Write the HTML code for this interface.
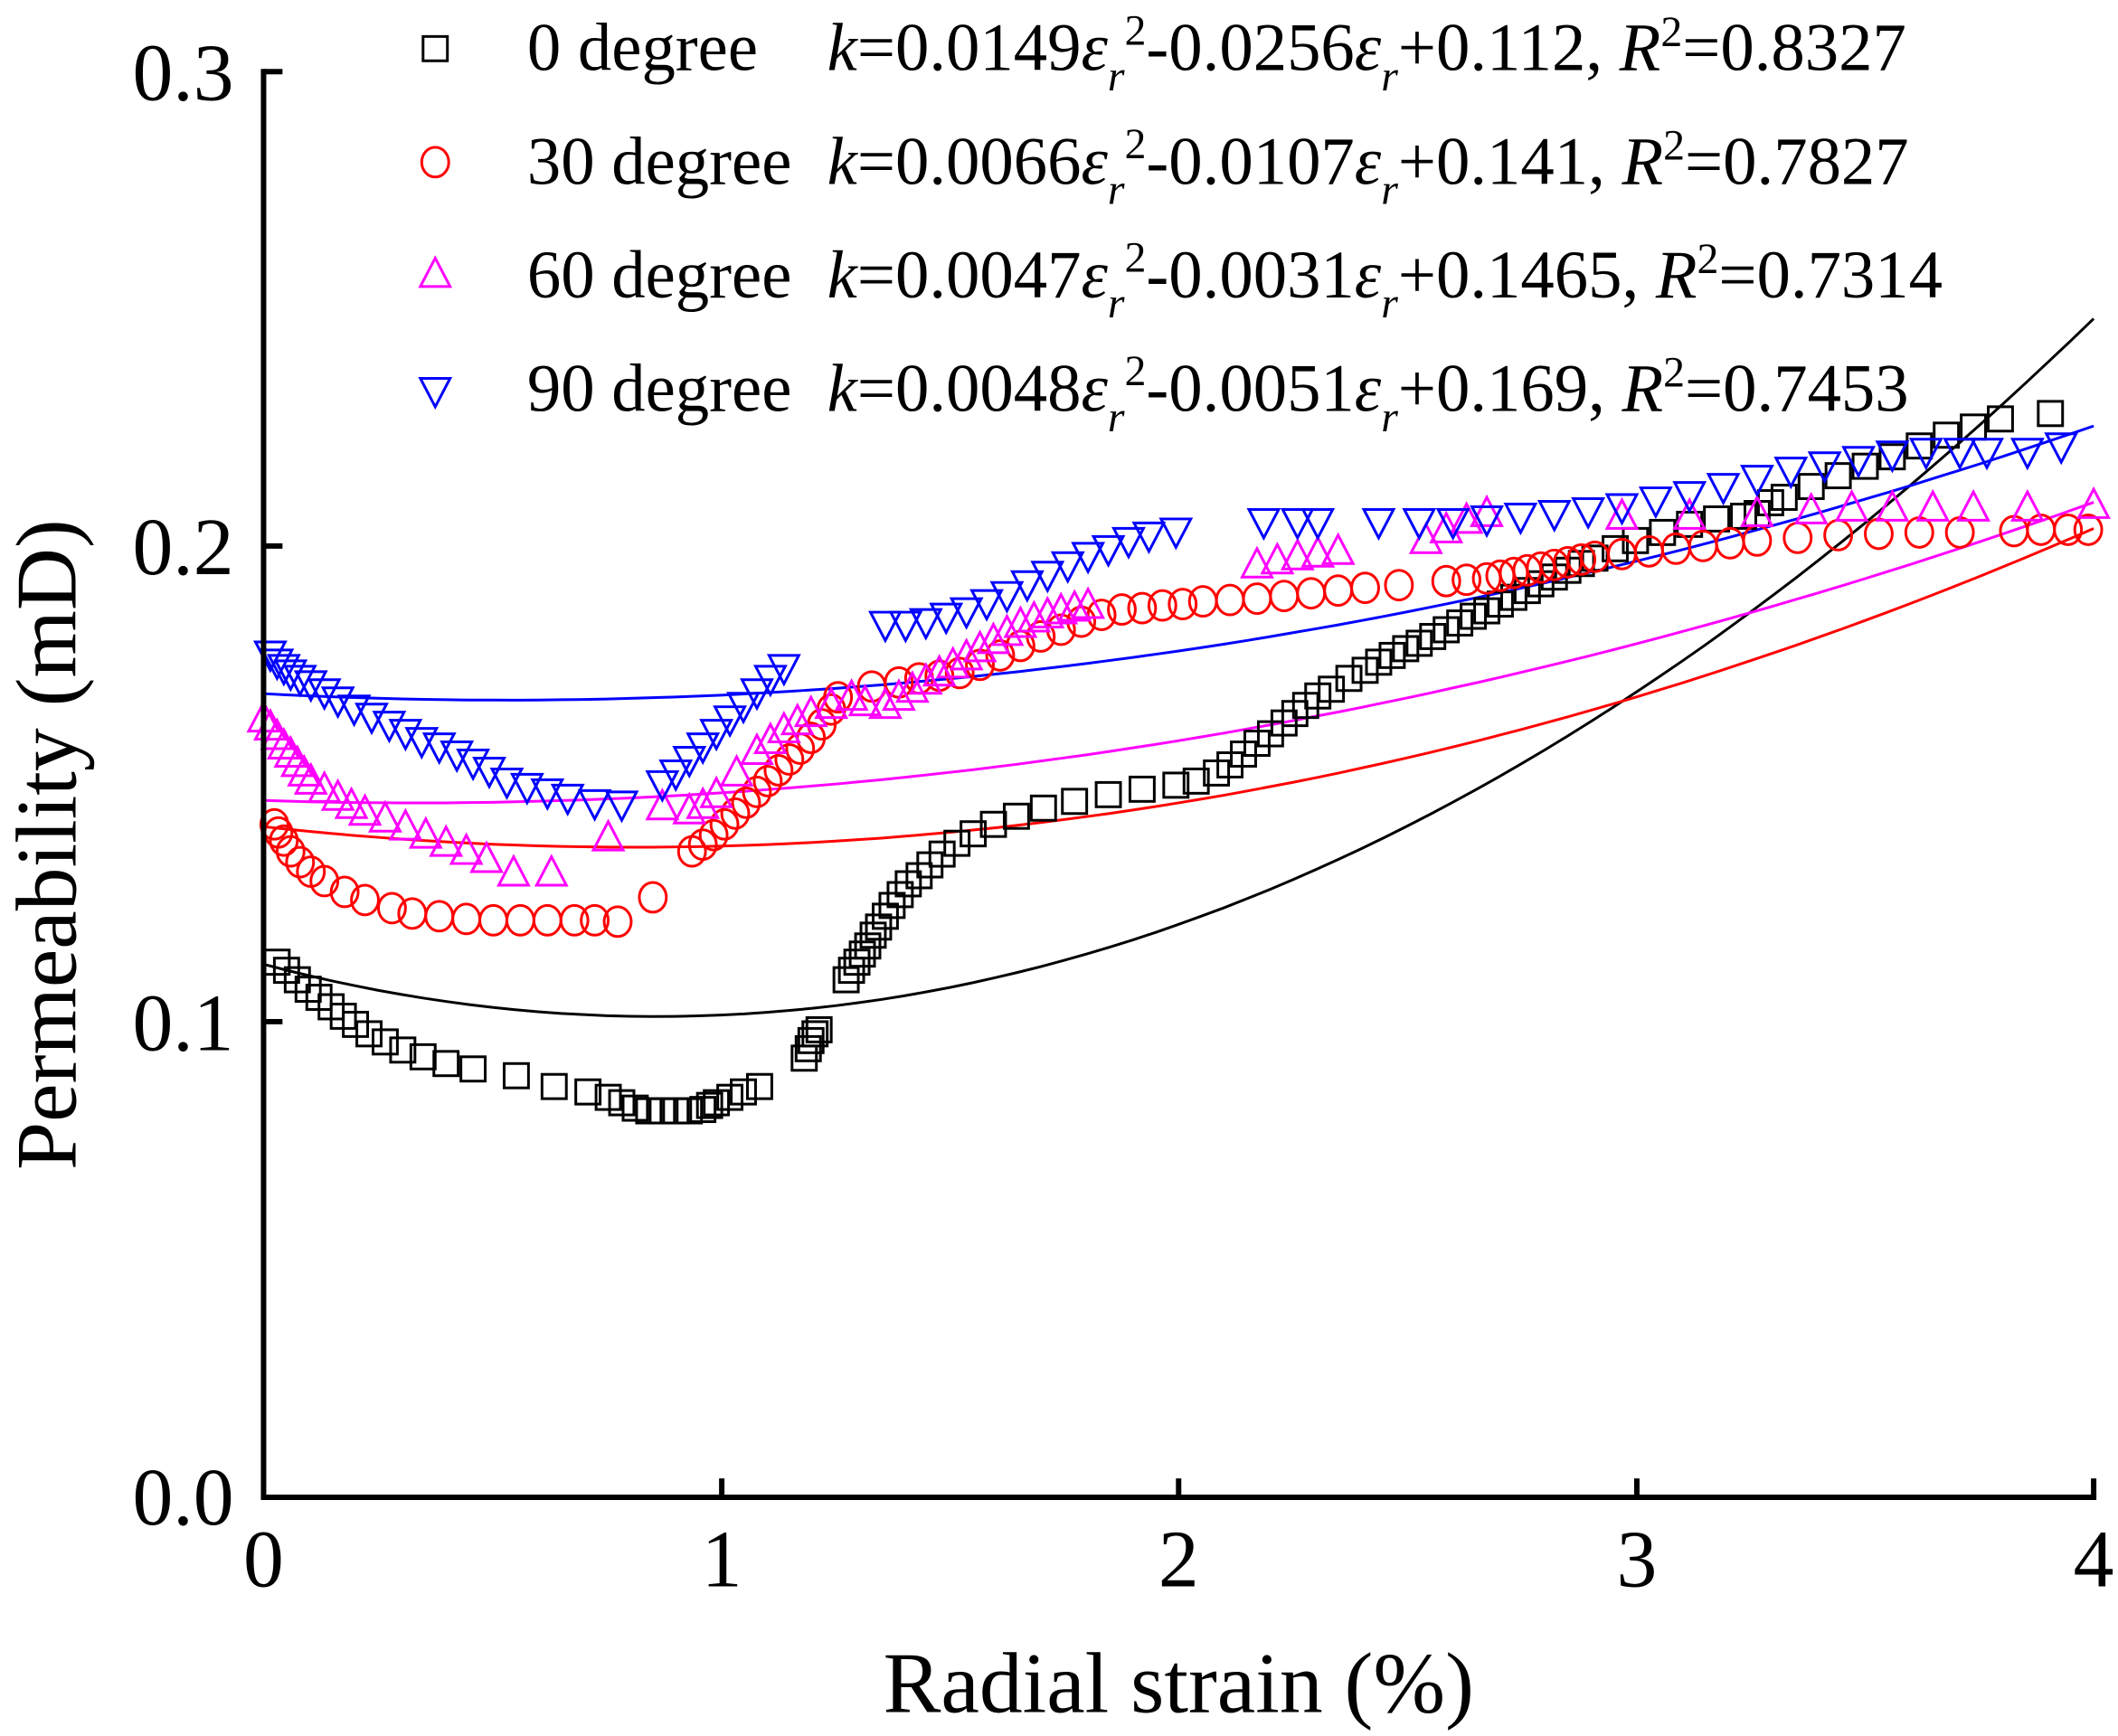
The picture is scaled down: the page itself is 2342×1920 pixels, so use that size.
<!DOCTYPE html>
<html><head><meta charset="utf-8"><style>html,body{margin:0;padding:0;background:#fff}svg{display:block}</style></head>
<body>
<svg id="s" xmlns="http://www.w3.org/2000/svg" width="2342" height="1920" viewBox="0 0 1567 1284.6" preserveAspectRatio="none" font-family="'Liberation Serif',serif">
<rect width="1567" height="1285" fill="#fff"/>
<g id="fits" fill="none" stroke-width="2"></g>
<g id="pts" fill="none" stroke-width="2"></g>
<g stroke="#000" stroke-width="4" fill="none">
<path d="M195,51 V1108 H1551"/>
<path d="M195,53 h14 M195,404 h14 M195,756 h14 M534,1108 v-14 M872,1108 v-14 M1211,1108 v-14 M1549,1108 v-14"/>
</g>
<g font-size="60" fill="#000">
<text x="173" y="74" text-anchor="end">0.3</text>
<text x="173" y="425" text-anchor="end">0.2</text>
<text x="173" y="777" text-anchor="end">0.1</text>
<text x="173" y="1128" text-anchor="end">0.0</text>
<text x="195" y="1174" text-anchor="middle">0</text>
<text x="534" y="1174" text-anchor="middle">1</text>
<text x="872" y="1174" text-anchor="middle">2</text>
<text x="1211" y="1174" text-anchor="middle">3</text>
<text x="1549" y="1174" text-anchor="middle">4</text>
</g>
<text x="872" y="1267" text-anchor="middle" font-size="64">Radial strain (%)</text>
<text transform="translate(56,625) rotate(-90)" text-anchor="middle" font-size="64">Permeability (mD)</text>
<g font-size="50" fill="#000">
<text x="390" y="52">0 degree</text>
<text x="390" y="136">30 degree</text>
<text x="390" y="220">60 degree</text>
<text x="390" y="304">90 degree</text>
<text x="612" y="52"><tspan font-style="italic">k</tspan>=0.0149<tspan font-style="italic">ε</tspan><tspan font-style="italic" font-size="32" dy="15">r</tspan><tspan font-size="32" dy="-34">2</tspan><tspan dy="19">-0.0256</tspan><tspan font-style="italic">ε</tspan><tspan font-style="italic" font-size="32" dy="15">r</tspan><tspan dy="-15">+0.112, </tspan><tspan font-style="italic">R</tspan><tspan font-size="32" dy="-18">2</tspan><tspan dy="18">=0.8327</tspan></text>
<text x="612" y="136"><tspan font-style="italic">k</tspan>=0.0066<tspan font-style="italic">ε</tspan><tspan font-style="italic" font-size="32" dy="15">r</tspan><tspan font-size="32" dy="-34">2</tspan><tspan dy="19">-0.0107</tspan><tspan font-style="italic">ε</tspan><tspan font-style="italic" font-size="32" dy="15">r</tspan><tspan dy="-15">+0.141, </tspan><tspan font-style="italic">R</tspan><tspan font-size="32" dy="-18">2</tspan><tspan dy="18">=0.7827</tspan></text>
<text x="612" y="220"><tspan font-style="italic">k</tspan>=0.0047<tspan font-style="italic">ε</tspan><tspan font-style="italic" font-size="32" dy="15">r</tspan><tspan font-size="32" dy="-34">2</tspan><tspan dy="19">-0.0031</tspan><tspan font-style="italic">ε</tspan><tspan font-style="italic" font-size="32" dy="15">r</tspan><tspan dy="-15">+0.1465, </tspan><tspan font-style="italic">R</tspan><tspan font-size="32" dy="-18">2</tspan><tspan dy="18">=0.7314</tspan></text>
<text x="612" y="304"><tspan font-style="italic">k</tspan>=0.0048<tspan font-style="italic">ε</tspan><tspan font-style="italic" font-size="32" dy="15">r</tspan><tspan font-size="32" dy="-34">2</tspan><tspan dy="19">-0.0051</tspan><tspan font-style="italic">ε</tspan><tspan font-style="italic" font-size="32" dy="15">r</tspan><tspan dy="-15">+0.169, </tspan><tspan font-style="italic">R</tspan><tspan font-size="32" dy="-18">2</tspan><tspan dy="18">=0.7453</tspan></text>
</g>
</svg>
<script>
var NS="http://www.w3.org/2000/svg";
function X(v){return 195+v*338.5} function Y(v){return 1107-v*3513}
var fits=[["#000",0.0149,-0.0256,0.112],["#f00",0.0066,-0.0107,0.141],["#f0f",0.0047,-0.0031,0.1465],["#00f",0.0048,-0.0051,0.169]];
var fg=document.getElementById("fits");
fits.forEach(function(f){var d="";for(var i=0;i<=80;i++){var x=i/20;var y=f[1]*x*x+f[2]*x+f[3];d+=(i?"L":"M")+X(x).toFixed(1)+","+Y(y).toFixed(1);}
var p=document.createElementNS(NS,"path");p.setAttribute("d",d);p.setAttribute("stroke",f[0]);fg.appendChild(p);});
var g=document.getElementById("pts");
function mk(t,x,y){var e;
if(t==0){e=document.createElementNS(NS,"rect");e.setAttribute("x",x-9);e.setAttribute("y",y-9);e.setAttribute("width",18);e.setAttribute("height",18);e.setAttribute("stroke","#000");}
else if(t==1){e=document.createElementNS(NS,"ellipse");e.setAttribute("cx",x);e.setAttribute("cy",y);e.setAttribute("rx",10);e.setAttribute("ry",11);e.setAttribute("stroke","#f00");}
else if(t==2){e=document.createElementNS(NS,"path");e.setAttribute("d","M"+x+","+(y-12)+"L"+(x+11)+","+(y+9)+"L"+(x-11)+","+(y+9)+"Z");e.setAttribute("stroke","#f0f");}
else{e=document.createElementNS(NS,"path");e.setAttribute("d","M"+x+","+(y+12)+"L"+(x+11)+","+(y-9)+"L"+(x-11)+","+(y-9)+"Z");e.setAttribute("stroke","#00f");}
g.appendChild(e);}
var D=[
[[205,712],[212,718],[220,725],[228,732],[236,738],[245,745],[254,752],[263,758],[273,765],[285,771],[298,777],[313,782],[330,787],[350,791],[382,796],[410,804],[435,808],[450,812],[460,816],[470,820],[480,822],[490,822],[500,822],[510,822],[520,821],[525,818],[530,816],[540,812],[550,808],[562,804],[595,783],[598,776],[600,770],[603,765],[606,762],[626,725],[630,718],[634,712],[638,706],[642,700],[646,692],[650,686],[655,678],[660,670],[666,662],[672,654],[680,648],[688,640],[697,632],[708,624],[720,617],[735,610],[752,604],[772,598],[795,593],[820,588],[845,584],[870,581],[885,578],[900,572],[910,566],[920,558],[930,550],[940,543],[950,535],[958,528],[966,522],[975,515],[985,510],[998,502],[1010,496],[1020,490],[1030,485],[1040,480],[1050,476],[1060,471],[1070,466],[1080,461],[1090,456],[1100,452],[1110,447],[1120,442],[1130,437],[1140,432],[1150,427],[1160,422],[1170,417],[1180,413],[1195,406],[1210,400],[1230,394],[1250,388],[1270,384],[1290,382],[1300,380],[1310,372],[1320,368],[1340,360],[1360,352],[1380,345],[1400,338],[1420,330],[1440,322],[1460,316],[1480,310],[1517,306]],
[[203,610],[206,616],[210,622],[215,630],[222,638],[230,645],[240,652],[255,660],[270,666],[290,672],[305,676],[325,678],[345,680],[365,681],[385,681],[405,681],[425,681],[440,681],[457,682],[483,664],[512,630],[520,625],[528,618],[536,610],[544,602],[552,594],[560,586],[568,578],[576,570],[584,562],[592,554],[600,546],[608,536],[615,525],[620,516],[645,508],[665,505],[680,502],[695,500],[710,498],[725,492],[740,485],[755,478],[770,471],[785,466],[800,460],[815,455],[830,451],[845,450],[860,448],[875,447],[890,445],[910,444],[930,443],[950,441],[970,439],[990,437],[1010,435],[1035,433],[1070,430],[1085,429],[1100,428],[1110,426],[1120,424],[1130,422],[1140,420],[1150,418],[1160,416],[1170,414],[1180,412],[1200,410],[1220,408],[1240,406],[1260,404],[1280,402],[1300,400],[1330,398],[1360,396],[1390,395],[1420,394],[1450,394],[1490,393],[1510,392],[1530,392],[1545,392]],
[[195,532],[200,538],[205,545],[210,552],[215,558],[220,565],[225,572],[230,578],[240,584],[250,590],[260,596],[270,601],[285,606],[300,612],[315,618],[330,624],[345,630],[360,636],[380,646],[408,646],[450,620],[490,597],[510,600],[520,596],[530,588],[545,572],[560,556],[570,548],[580,540],[590,534],[600,528],[615,522],[630,516],[640,520],[655,522],[665,516],[675,510],[685,504],[695,498],[705,492],[715,486],[725,480],[735,474],[745,468],[755,462],[765,458],[775,455],[785,452],[795,450],[805,448],[930,418],[945,415],[960,412],[975,410],[990,408],[1055,400],[1070,392],[1085,385],[1100,380],[1200,382],[1250,382],[1300,380],[1340,378],[1370,376],[1400,376],[1430,376],[1460,376],[1500,376],[1549,374]],
[[200,484],[205,490],[210,494],[215,498],[222,502],[230,506],[240,512],[250,518],[262,524],[275,530],[288,536],[300,542],[312,548],[325,552],[338,558],[350,564],[362,570],[375,578],[390,582],[405,586],[420,590],[440,594],[460,595],[490,580],[500,572],[510,562],[520,552],[530,542],[540,532],[550,522],[560,512],[570,502],[580,494],[655,462],[670,462],[685,460],[700,456],[715,452],[730,446],[745,440],[760,432],[775,425],[790,418],[805,411],[820,406],[835,400],[850,396],[870,393],[935,386],[960,386],[975,386],[1020,386],[1050,386],[1075,386],[1100,384],[1125,382],[1150,380],[1175,378],[1200,375],[1225,370],[1250,366],[1275,360],[1300,354],[1325,348],[1350,344],[1375,340],[1400,336],[1425,334],[1450,334],[1470,334],[1500,334],[1525,330]]];
D.forEach(function(a,t){a.forEach(function(p){mk(t,p[0],p[1]);});});
mk(0,322,36);mk(1,322,120);mk(2,322,203);mk(3,322,289);
</script>
</body></html>
